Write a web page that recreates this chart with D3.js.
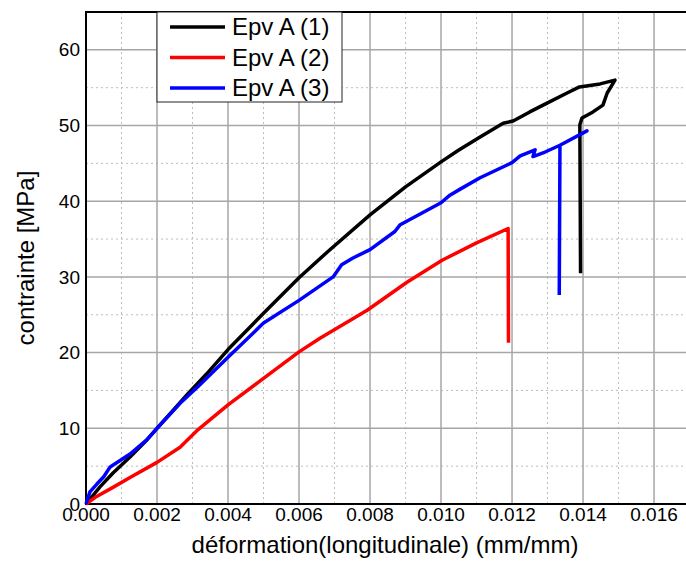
<!DOCTYPE html>
<html>
<head>
    <title>Epv A - contrainte / deformation</title>
    <script src="https://cdn.jsdelivr.net/npm/d3@7"></script>
    <style>
    body{ margin:0; background:#fff; }
    svg{ font-family: "Liberation Sans", Arial, sans-serif; }
    </style>
</head>
<body>
    <svg width="686" height="561"></svg>
    <script>
        // [strain, stress]
        var epv1 = [[0,0],[0.0004,2.3],[0.00076,4.1],[0.00124,6.2],[0.00172,8.5],[0.002,10],[0.00284,14.4],
            [0.0034,17.2],[0.004,20.4],[0.005,25.2],[0.006,29.9],[0.00687,33.6],[0.008,38.2],[0.009,41.9],
            [0.01,45.2],[0.01048,46.7],[0.0111,48.5],[0.01175,50.3],[0.01203,50.6],[0.0125,51.8],[0.013,53],
            [0.01355,54.3],[0.0139,55.1],[0.01448,55.5],[0.0149,56],[0.01468,54.3],[0.01456,52.7],
            [0.01428,51.8],[0.01397,51],[0.01391,50.1],[0.01393,30.5]];
        var epv2 = [[0,0],[0.0003,1.0],[0.00076,2.2],[0.00124,3.5],[0.002,5.5],[0.00265,7.5],[0.00315,9.8],
            [0.004,13.1],[0.005,16.6],[0.006,20.1],[0.00659,21.9],[0.00792,25.6],[0.00904,29.3],
            [0.01003,32.2],[0.011,34.5],[0.01189,36.4],[0.0119,21.3]];
        var epv3 = [[0,0],[0.00011,1.6],[0.0003,2.6],[0.0005,3.6],[0.00068,4.9],[0.00124,6.6],[0.00172,8.5],
            [0.002,10],[0.00265,13.3],[0.00315,15.5],[0.004,19.4],[0.005,23.9],[0.006,26.9],[0.00696,30],
            [0.0072,31.6],[0.00752,32.5],[0.008,33.6],[0.0087,36],[0.00885,36.9],[0.01,39.8],[0.01025,40.8],
            [0.01054,41.6],[0.0111,43.1],[0.012,45.1],[0.01223,46],[0.01265,46.8],[0.01259,45.9],
            [0.01293,46.5],[0.01335,47.4],[0.01363,48.1],[0.01411,49.3],[0.01335,47.4],[0.01333,27.6]];

        var names = ["Epv A (1)", "Epv A (2)", "Epv A (3)"];
        var colors = ["#000000", "#ff0000", "#0000ff"];
        var xTicks = [0, 0.002, 0.004, 0.006, 0.008, 0.010, 0.012, 0.014, 0.016];
        var yTicks = [0, 10, 20, 30, 40, 50, 60];

        var svg = d3.select("svg");
        var pLeft = 86, pTop = 12, pBottom = 504, pRight = 686;

        var x = d3.scaleLinear().domain([0, 0.0169]).range([pLeft, pRight]);
        var y = d3.scaleLinear().domain([0, 65]).range([pBottom, pTop]);

        // minor grid (dotted)
        var xMinor = d3.range(0.001, 0.017, 0.002);
        var yMinor = d3.range(5, 65, 10);
        svg.selectAll("line.xminor").data(xMinor).enter().append("line")
            .attr("x1", function(d){return x(d)}).attr("x2", function(d){return x(d)})
            .attr("y1", pTop).attr("y2", pBottom)
            .attr("stroke", "#bdbdbd").attr("stroke-dasharray", "2,3");
        svg.selectAll("line.yminor").data(yMinor).enter().append("line")
            .attr("x1", pLeft).attr("x2", pRight)
            .attr("y1", function(d){return y(d)}).attr("y2", function(d){return y(d)})
            .attr("stroke", "#bdbdbd").attr("stroke-dasharray", "2,3");

        // major grid
        svg.selectAll("line.xmajor").data(xTicks.slice(1)).enter().append("line")
            .attr("x1", function(d){return x(d)}).attr("x2", function(d){return x(d)})
            .attr("y1", pTop).attr("y2", pBottom)
            .attr("stroke", "#a6a6a6").attr("stroke-width", 1.5);
        svg.selectAll("line.ymajor").data(yTicks.slice(1)).enter().append("line")
            .attr("x1", pLeft).attr("x2", pRight)
            .attr("y1", function(d){return y(d)}).attr("y2", function(d){return y(d)})
            .attr("stroke", "#a6a6a6").attr("stroke-width", 1.5);

        // frame
        svg.append("path")
            .attr("d", "M" + pRight + "," + pTop + "H" + pLeft + "V" + pBottom + "H" + pRight)
            .attr("fill", "none").attr("stroke", "#000").attr("stroke-width", 2);

        // tick labels
        svg.selectAll("text.xt").data(xTicks).enter().append("text")
            .attr("x", function(d){return x(d)}).attr("y", 521)
            .attr("text-anchor", "middle").attr("font-size", 19)
            .text(function(d){return d3.format(".3f")(d)});
        svg.selectAll("text.yt").data(yTicks).enter().append("text")
            .attr("x", pLeft - 6).attr("y", function(d){return y(d)})
            .attr("dy", "0.35em").attr("text-anchor", "end").attr("font-size", 19)
            .text(function(d){return d});

        // axis titles
        svg.append("text").attr("x", 385).attr("y", 553)
            .attr("text-anchor", "middle").attr("font-size", 24)
            .text("déformation(longitudinale) (mm/mm)");
        svg.append("text").attr("transform", "translate(34,258) rotate(-90)")
            .attr("text-anchor", "middle").attr("font-size", 24)
            .text("contrainte [MPa]");

        // curves
        var line = d3.line()
            .x(function(d){return x(d[0])})
            .y(function(d){return y(d[1])});
        svg.selectAll("path.curve").data([epv1, epv2, epv3]).enter().append("path")
            .attr("class", "curve")
            .attr("d", line)
            .attr("fill", "none")
            .attr("stroke", function(d, i){return colors[i]})
            .attr("stroke-width", 3.5)
            .attr("stroke-linejoin", "round");

        // legend
        var lg = svg.append("g").attr("transform", "translate(157,12)");
        lg.append("rect").attr("width", 185).attr("height", 90)
            .attr("fill", "#fff").attr("stroke", "#222").attr("stroke-width", 1);
        var item = lg.selectAll("g.item").data(names).enter().append("g")
            .attr("transform", function(d, i){return "translate(0," + (15 + i * 30.5) + ")"});
        item.append("line").attr("x1", 13).attr("x2", 68)
            .attr("stroke", function(d, i){return colors[i]}).attr("stroke-width", 3.5);
        item.append("text").attr("x", 75).attr("dy", "0.35em")
            .attr("font-size", 24).text(function(d){return d});
    </script>
</body>
</html>
